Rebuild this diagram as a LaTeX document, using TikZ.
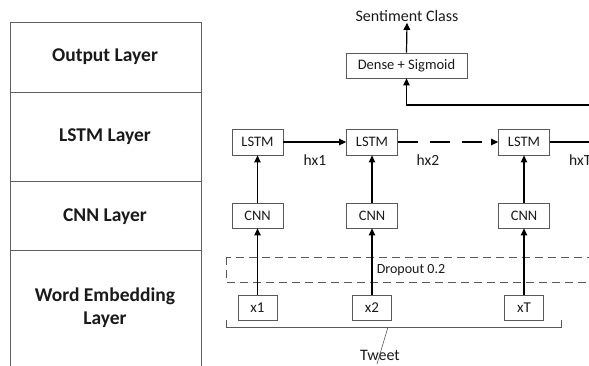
\documentclass[tikz,border=0pt]{standalone}
\usepackage{fontspec}
\setmainfont{Carlito}
\usetikzlibrary{arrows.meta}
\definecolor{boxgray}{HTML}{595959}
\definecolor{tblgray}{HTML}{5F5F5F}
\definecolor{txt}{HTML}{1A1A1A}
\begin{document}
\begin{tikzpicture}[x=1pt,y=-1pt,
  tbl/.style={draw=tblgray,line width=0.9pt},
  lbl/.style={font=\bfseries\fontsize{19.5}{23}\selectfont,text=txt,align=center},
  blk/.style={draw=boxgray,line width=0.8pt,inner sep=0pt,text=txt,font=\fontsize{14.5}{16}\selectfont,minimum height=25pt},
  plain/.style={text=txt,font=\fontsize{15.5}{17}\selectfont,inner sep=1pt},
  arr/.style={-{Triangle[length=7pt,width=6.5pt]},line width=1.2pt,black},
  dashbox/.style={draw=boxgray,line width=0.8pt,dash pattern=on 8pt off 5pt},
  brace/.style={draw=boxgray,line width=0.8pt}]
\useasboundingbox (0,0) rectangle (589,365);
\clip (0,0) rectangle (589,365);
% left table
\draw[tbl] (10,366) -- (10,22) -- (201,22) -- (201,366);
\draw[tbl] (10,92) -- (201,92);
\draw[tbl] (10,181) -- (201,181);
\draw[tbl] (10,250) -- (201,250);
\node[lbl] (lout) at (105,57) {Output Layer};
\node[lbl] (llstm) at (105,137) {LSTM Layer};
\node[lbl] (lcnn) at (105,217) {CNN Layer};
\node[lbl] (lemb) at (105,308) {Word Embedding\\Layer};
% dropout band
\draw[dashbox] (226,257) rectangle (600,282);
\node[text=txt,font=\fontsize{14}{16}\selectfont] (drop) at (411,270) {Dropout 0.2};
% output part
\node[blk,minimum width=121pt] (dense) at (406.5,65.5) {Dense + Sigmoid};
\node[plain,font=\fontsize{16}{18}\selectfont] (sent) at (407,16) {Sentiment Class};
% LSTM row
\node[blk,minimum width=51pt,minimum height=26pt] (l1) at (257.5,142) {LSTM};
\node[blk,minimum width=51pt,minimum height=26pt] (l2) at (372,142) {LSTM};
\node[blk,minimum width=51pt,minimum height=26pt] (l3) at (524,142) {LSTM};
% CNN row
\node[blk,minimum width=51pt] (c1) at (257.5,215.5) {CNN};
\node[blk,minimum width=51pt] (c2) at (372,215.5) {CNN};
\node[blk,minimum width=51pt] (c3) at (524,215.5) {CNN};
% inputs
\node[blk,minimum width=39pt,font=\fontsize{15}{17}\selectfont] (x1) at (257.5,307.5) {x1};
\node[blk,minimum width=39pt,font=\fontsize{15}{17}\selectfont] (x2) at (372,307.5) {x2};
\node[blk,minimum width=39pt,font=\fontsize{15}{17}\selectfont] (xT) at (524,307.5) {xT};
% hidden labels
\node[plain] (h1) at (315,160) {hx1};
\node[plain] (h2) at (428,160) {hx2};
\node[plain,anchor=west] (hT) at (568,160) {hxT};
% arrows
\draw[arr] (dense.north) -- (sent.south);
\draw[arr] (x1.north) -- (c1.south);
\draw[arr] (x2.north) -- (c2.south);
\draw[arr] (xT.north) -- (c3.south);
\draw[arr] (c1.north) -- (l1.south);
\draw[arr] (c2.north) -- (l2.south);
\draw[arr] (c3.north) -- (l3.south);
\draw[arr] (l1.east) -- (l2.west);
\draw[arr,dash pattern=on 20pt off 12pt] (l2.east) -- (l3.west);
\coordinate (ra) at (600,142);
\coordinate (rb) at (600,105);
\draw[arr] (l3.east) -- (ra) -- (rb) -| (dense.south);
% tweet brace
\coordinate (b1) at (226,320);
\coordinate (b2) at (561,320);
\coordinate (bm) at (388,327);
\coordinate (bt) at (377,364);
\draw[brace] (b1) -- (226,327) -- (561,327) -- (b2);
\node[plain,font=\fontsize{16}{18}\selectfont] (tweet) at (380,355) {Tweet};
\draw[brace,line width=0.6pt] (bm) -- (bt);
\end{tikzpicture}
\end{document}
